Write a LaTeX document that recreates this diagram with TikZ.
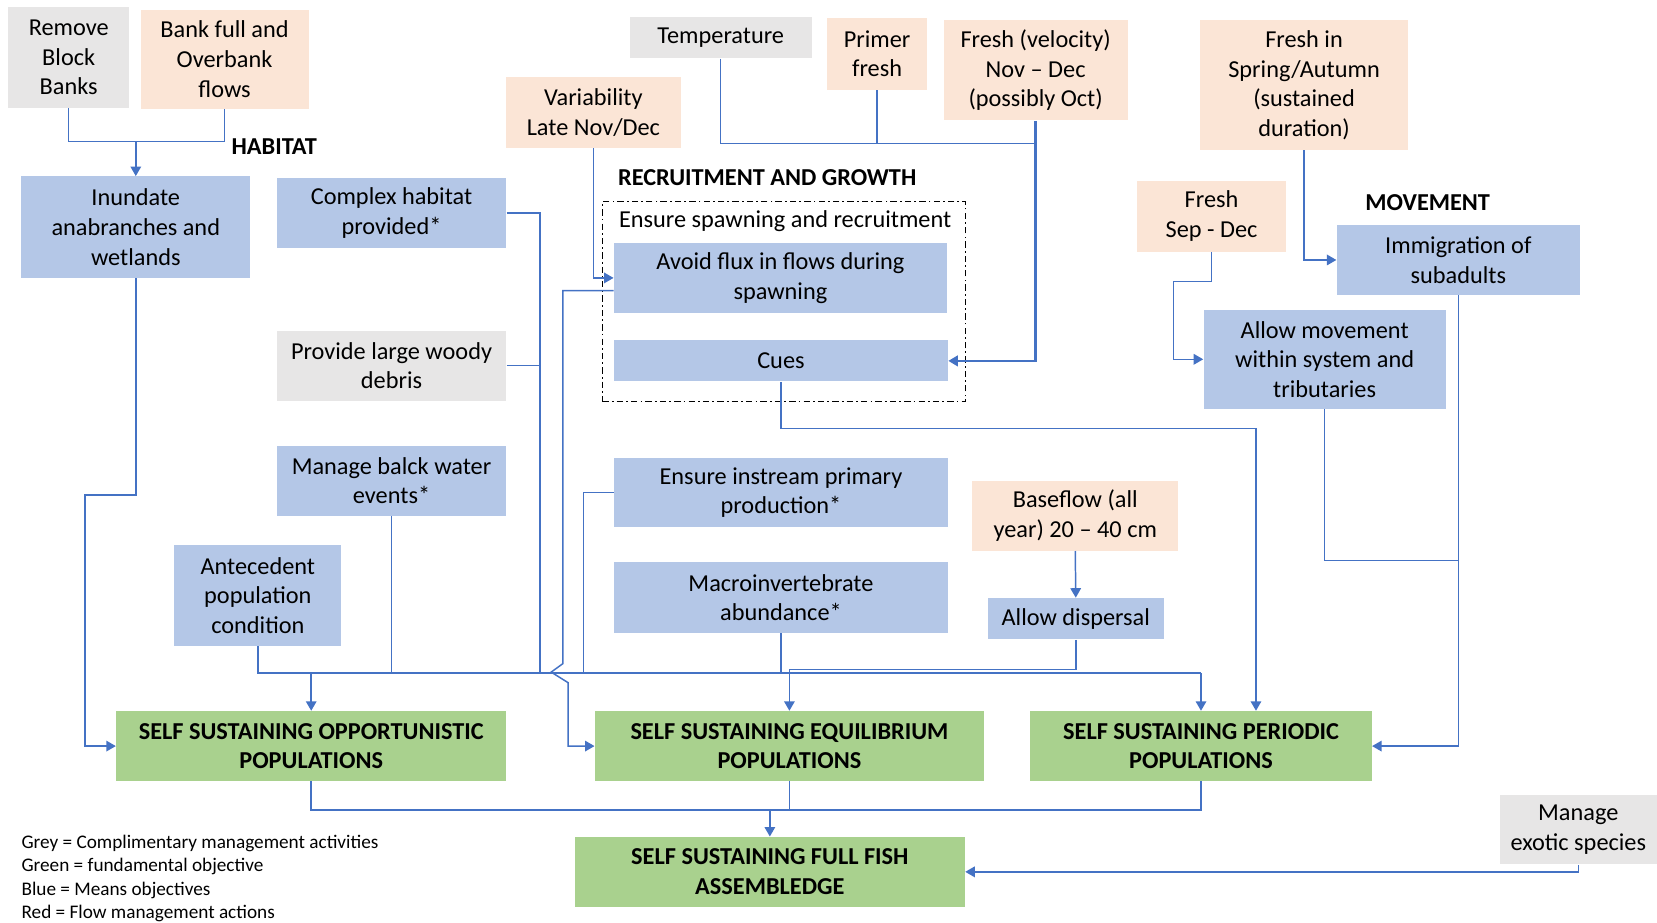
\documentclass[tikz,border=0pt]{standalone}
\usepackage{fontspec}
\setmainfont{Carlito}
\usepackage{tikz}
\usetikzlibrary{arrows.meta,positioning}
\definecolor{meansblue}{HTML}{B4C7E7}
\definecolor{flowpeach}{HTML}{FBE5D6}
\definecolor{mgmtgrey}{HTML}{E7E6E6}
\definecolor{fundgreen}{HTML}{A9D18E}
\definecolor{linkblue}{HTML}{4472C4}
\tikzset{
  boxbase/.style={rectangle,align=center,inner sep=2pt,
    font=\fontsize{11.5}{14}\selectfont},
  means/.style={boxbase,fill=meansblue},
  flowact/.style={boxbase,fill=flowpeach},
  mgmt/.style={boxbase,fill=mgmtgrey},
  fundamental/.style={boxbase,fill=fundgreen,
    font=\fontsize{11.5}{14}\selectfont\bfseries},
  dims/.style 2 args={minimum width=#1*0.5pt,minimum height=#2*0.5pt},
  heading/.style={inner sep=0pt,font=\fontsize{11.5}{14}\selectfont\bfseries},
  conn/.style={draw=linkblue,line width=0.7pt},
  flow/.style={conn,-{Triangle[length=4.5pt,width=5pt]}},
  spawnframe/.style={draw=black,line width=0.5pt,
    dash pattern=on 3pt off 1.5pt on 0.8pt off 1.5pt}
}
\begin{document}
\begin{tikzpicture}[x=0.5pt,y=-0.5pt]
  \useasboundingbox (0,0) rectangle (1568,873);
  % habitat
  \node[mgmt,dims={114}{95}] (rmblock) at (65,54.5) {Remove\\Block\\Banks};
  \node[flowact,dims={159}{94}] (bankfull) at (212.5,56) {Bank full and\\Overbank\\flows};
  \node[heading] (habitat) at (259.5,139) {HABITAT};
  \node[means,dims={217}{96}] (inundate) at (128.5,215) {Inundate\\anabranches and\\wetlands};
  \node[means,dims={217}{67}] (complex) at (370.5,201.5) {Complex habitat\\provided*};
  \node[mgmt,dims={217}{66}] (woody) at (370.5,346) {Provide large woody\\debris};
  \node[means,dims={217}{66}] (blackwater) at (370.5,455) {Manage balck water\\events*};
  \node[means,dims={158}{95}] (antecedent) at (244,563.5) {Antecedent\\population\\condition};
  % recruitment and growth
  \node[mgmt,dims={172}{39}] (temp) at (682,35.5) {Temperature};
  \node[flowact,dims={94}{68}] (primer) at (830,51) {Primer\\fresh};
  \node[flowact,dims={174}{95}] (freshvel) at (980,66.5) {Fresh (velocity)\\Nov -- Dec\\(possibly Oct)};
  \node[flowact,dims={165}{67}] (variab) at (561.5,106.5) {Variability\\Late Nov/Dec};
  \node[heading] (recruit) at (726,168) {RECRUITMENT AND GROWTH};
  \node[spawnframe,dims={344}{189}] (spawnbox) at (742,285.5) {};
  \node[boxbase] (ensure) at (743,209) {Ensure spawning and recruitment};
  \node[means,dims={315}{66}] (avoidflux) at (738.5,263) {Avoid flux in flows during\\spawning};
  \node[means,dims={316}{39}] (cues) at (739,341.5) {Cues};
  \node[means,dims={316}{66}] (instream) at (739,466) {Ensure instream primary\\production*};
  \node[means,dims={316}{67}] (macro) at (739,565.5) {Macroinvertebrate\\abundance*};
  \node[flowact,dims={195}{66}] (baseflow) at (1017.5,488) {Baseflow (all\\year) 20 -- 40 cm};
  \node[means,dims={166}{39}] (dispersal) at (1018,585.5) {Allow dispersal};
  % movement
  \node[flowact,dims={196}{123}] (freshspring) at (1234,80.5) {Fresh in\\Spring/Autumn\\(sustained\\duration)};
  \node[flowact,dims={141}{67}] (freshsep) at (1146.5,204.5) {Fresh\\Sep - Dec};
  \node[heading] (movement) at (1351,192) {MOVEMENT};
  \node[means,dims={230}{66}] (immig) at (1380,246) {Immigration of\\subadults};
  \node[means,dims={229}{94}] (allowmove) at (1253.5,340) {Allow movement\\within system and\\tributaries};
  % fundamental objectives
  \node[fundamental,dims={369}{66}] (opport) at (294.5,706) {SELF SUSTAINING OPPORTUNISTIC\\POPULATIONS};
  \node[fundamental,dims={368}{66}] (equil) at (747,706) {SELF SUSTAINING EQUILIBRIUM\\POPULATIONS};
  \node[fundamental,dims={323}{66}] (periodic) at (1136.5,706) {SELF SUSTAINING PERIODIC\\POPULATIONS};
  \node[fundamental,dims={369}{66}] (fullfish) at (728.5,825) {SELF SUSTAINING FULL FISH\\ASSEMBLEDGE};
  \node[mgmt,dims={149}{66}] (exotic) at (1493.5,785) {Manage\\exotic species};
  \node[anchor=north west,align=left,inner sep=0pt,font=\fontsize{9.1}{11}\selectfont] (legend) at (20,790)
    {Grey = Complimentary management activities\\Green = fundamental objective\\Blue = Means objectives\\Red = Flow management actions};
  % junction points
  \coordinate (habjoin) at (128.5,134);
  \coordinate (busR) at (1136.5,637);
  \coordinate (busO) at (294.5,637);
  \coordinate (b511) at (511,637);
  \coordinate (b552) at (552,637);
  \coordinate (tempjoin) at (830,136);
  % habitat links
  \draw[conn] (rmblock.south) |- (habjoin) -| (bankfull.south);
  \draw[flow] (habjoin) -- (inundate.north);
  \draw[flow] (inundate.south) -- ++(0,205) -- ++(-48,0) |- (opport.west);
  \draw[conn] (complex.east) -| (b511);
  \draw[conn] (woody.east) -- (woody.east -| b511);
  \draw[conn] (blackwater.south) -- (blackwater.south |- b511);
  \draw[conn] (antecedent.south) |- (busR);
  \draw[flow] (busO) -- (opport.north);
  \draw[flow] (busR) -- (periodic.north);
  % recruitment links
  \draw[conn] (temp.south) |- (tempjoin) -| (freshvel.south);
  \draw[conn] (primer.south) -- (tempjoin);
  \draw[flow,line width=1.1pt] (freshvel.south) |- (cues.east);
  \draw[flow] (variab.south) |- (avoidflux.west);
  \draw[flow] ([yshift=-6pt]avoidflux.west) -- ++(-48,0) -- ++(0,353) -- ++(-11,8) -- ++(16,10) |- (equil.west);
  \draw[conn] (instream.west) -| (b552);
  \draw[conn] (macro.south) -- (macro.south |- b552);
  \draw[flow] (baseflow.south) -- (dispersal.north);
  \draw[flow] (dispersal.south) -- ++(0,28) -| (equil.north);
  \draw[flow] (cues.south) -- ++(0,44) -| ([xshift=26pt]periodic.north);
  % movement links
  \draw[flow] (freshspring.south) |- (immig.west);
  \draw[flow] (freshsep.south) -- ++(0,28) -- ++(-36,0) |- (allowmove.west);
  \draw[conn] (allowmove.south) -- ++(0,143) -| (immig.south);
  \draw[flow] (immig.south) |- (periodic.east);
  % towards the full assemblage
  \draw[conn] (opport.south) -- ++(0,27) -| (periodic.south);
  \draw[conn] (equil.south) -- ++(0,27);
  \draw[flow] ([yshift=13pt]fullfish.north) -- (fullfish.north);
  \draw[flow] (exotic.south) |- (fullfish.east);
\end{tikzpicture}
\end{document}
